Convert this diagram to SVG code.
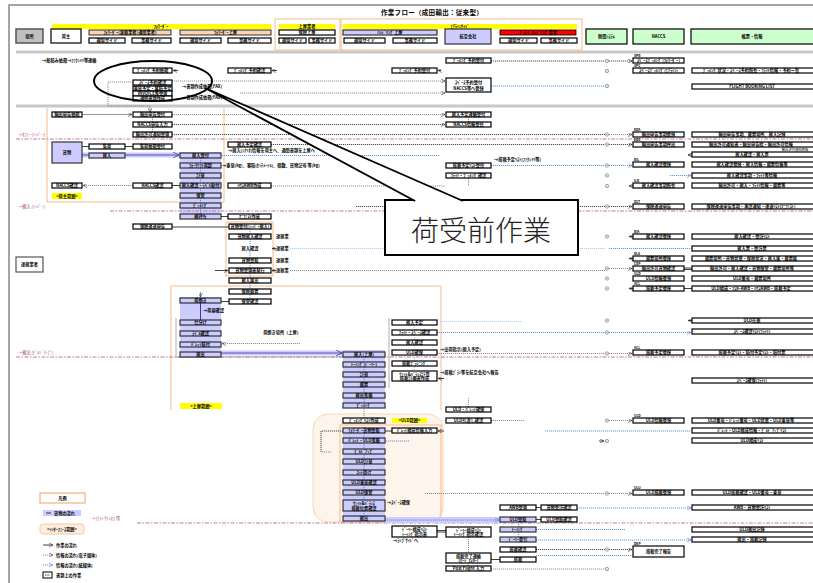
<svg xmlns="http://www.w3.org/2000/svg" width="813" height="583" viewBox="0 0 813 583">
<style>
.bx{fill:#fff;stroke:#000;stroke-width:1.2}
.lv{fill:#ccccff;stroke:#333;stroke-width:1.2}
.t{font-family:"Noto Sans CJK JP","Noto Sans",sans-serif;font-size:4.2px;font-weight:700;text-anchor:middle;fill:#000}
.tn{font-weight:400}
.ts{font-size:3.3px}
.tl{text-anchor:start}
.mg{fill:#a0406a;font-weight:400}
.dg{fill:none;stroke:#777;stroke-width:0.8;stroke-dasharray:1.2 0.8}
.dk{fill:none;stroke:#222;stroke-width:0.8;stroke-dasharray:1.2 0.8}
.db{fill:none;stroke:#3d7fd9;stroke-width:0.8;stroke-dasharray:1.2 0.8}
.dbl{fill:none;stroke:#9cc0ee;stroke-width:0.8;stroke-dasharray:1.2 0.8}
.dm{fill:none;stroke:#c07898;stroke-width:1;stroke-dasharray:4 1.5 1.5 1.5}
.sl{fill:none;stroke:#111;stroke-width:0.8}
.or{fill:none;stroke:#f7b98a;stroke-width:1}
.sep{stroke:#c8c8c8;stroke-width:3}
.band{fill:#ccccff}
</style>
<defs>
<marker id="ah" viewBox="0 0 4 4" refX="4" refY="2" markerWidth="4" markerHeight="4" orient="auto" markerUnits="userSpaceOnUse"><path d="M0,0 L4,2 L0,4" fill="none" stroke="#333" stroke-width="0.6"/></marker>
<marker id="ahb" viewBox="0 0 4 4" refX="4" refY="2" markerWidth="4" markerHeight="4" orient="auto" markerUnits="userSpaceOnUse"><path d="M0,0 L4,2 L0,4" fill="none" stroke="#3d7fd9" stroke-width="0.6"/></marker>
<marker id="ahl" viewBox="0 0 6 6" refX="6" refY="3" markerWidth="6" markerHeight="6" orient="auto" markerUnits="userSpaceOnUse"><path d="M0,0 L6,3 L0,6" fill="none" stroke="#3a3a9a" stroke-width="0.8"/></marker>
<g id="ci"><circle r="1.7" fill="none" stroke="#666" stroke-width="0.6"/><circle r="0.5" fill="#666"/></g>
<linearGradient id="fade" x1="0" x2="1" y1="0" y2="0"><stop offset="0" stop-color="#666"/><stop offset="1" stop-color="#666" stop-opacity="0"/></linearGradient>
</defs>

<rect width="813" height="583" fill="#fff"/>
<!-- page frame and separators -->
<path d="M9,583 V5 H813" fill="none" stroke="#888" stroke-width="1.5"/>
<line class="sep" x1="16" y1="52" x2="813" y2="52"/>
<line class="sep" x1="16" y1="106" x2="813" y2="106"/>
<text x="432" y="15" style="font-family:'Noto Sans CJK JP',sans-serif;font-size:6.5px;font-weight:700;text-anchor:middle;letter-spacing:0.3px">作業フロー（成田輸出：従来型）</text>

<!-- header lanes -->
<g id="hdr-place"><rect x="16" y="29" width="27" height="14" fill="#c0c0c0" stroke="#555" stroke-width="1.5"/><text class="t" x="29.5" y="37.5">場所</text></g>
<g id="hdr-fwd"><rect x="52" y="24" width="219" height="5" fill="#ffff00"/><text class="t" x="161" y="28">ﾌｫﾜｰﾀﾞｰ</text>
<rect x="89" y="30" width="82" height="5" fill="#fbd4b4" stroke="#000" stroke-width="0.8"/><text class="t" x="130" y="34">ﾌｫﾜｰﾀﾞｰ(混載業者/通関業者)</text>
<rect x="180" y="30" width="91" height="5" fill="#fbd4b4" stroke="#000" stroke-width="0.8"/><text class="t" x="225.5" y="34">ﾌｫﾜｰﾀﾞｰ上屋</text>
<rect class="bx" x="89" y="38" width="36" height="5"/><text class="t" x="107" y="42">現場サイド</text>
<rect class="bx" x="132" y="38" width="39" height="5"/><text class="t" x="151.5" y="42">事務サイド</text>
<rect class="bx" x="180" y="38" width="41" height="5"/><text class="t" x="200.5" y="42">現場サイド</text>
<rect class="bx" x="228" y="38" width="43" height="5"/><text class="t" x="249.5" y="42">事務サイド</text></g>
<g id="hdr-shipper"><rect x="51" y="29" width="30" height="14" fill="#fff" stroke="#000" stroke-width="1.2"/><text class="t" x="66" y="37.5">荷主</text></g>
<g id="hdr-shed"><rect class="or" x="275" y="19" width="65" height="31"/>
<rect x="279" y="24" width="56" height="5" fill="#ffff00"/><text class="t" x="307" y="28">上屋業者</text>
<rect class="bx" x="279" y="30" width="56" height="5"/><text class="t" x="307" y="34">保税上屋</text>
<rect class="bx" x="279" y="38" width="27" height="5"/><text class="t" x="292.5" y="42">現場サイド</text>
<rect class="bx" x="309" y="38" width="26" height="5"/><text class="t" x="322" y="42">事務サイド</text></g>
<g id="hdr-airline"><rect class="or" x="341" y="19" width="241" height="31"/>
<rect x="343" y="24" width="234" height="5" fill="#ffff00"/><text class="t" x="460" y="28">ｴｱﾗｲﾝｻｲﾄﾞ</text>
<rect class="lv" x="343" y="30" width="94" height="5"/><text class="t" x="390" y="34">ﾊﾝﾄﾞﾘﾝｸﾞ上屋</text>
<rect class="bx" x="344" y="38" width="41" height="5"/><text class="t" x="364.5" y="42">現場サイド</text>
<rect class="bx" x="393" y="38" width="44" height="5"/><text class="t" x="415" y="42">事務サイド</text>
<rect class="lv" x="445" y="29" width="46" height="15"/><text class="t" x="468" y="38">航空会社</text>
<rect x="500" y="30" width="76" height="5" fill="#ff0000" stroke="#000" stroke-width="0.8"/><text class="t" x="538" y="34">ｸﾞﾗﾝﾄﾞﾊﾝﾄﾞﾘﾝｸﾞ業者</text>
<rect class="bx" x="500" y="38" width="37" height="5"/><text class="t" x="518.5" y="42">現場サイド</text>
<rect class="bx" x="541" y="38" width="36" height="5"/><text class="t" x="559" y="42">事務サイド</text></g>
<g id="hdr-customs"><rect x="586" y="29" width="41" height="15" fill="#ccffcc" stroke="#000" stroke-width="1.2"/><text class="t" x="606.5" y="38">税関ｼｽﾃﾑ</text></g>
<g id="hdr-naccs"><rect x="633" y="29" width="51" height="15" fill="#ccffcc" stroke="#000" stroke-width="1.2"/><text class="t" x="658.5" y="38">NACCS</text></g>
<g id="hdr-info"><rect x="691" y="29" width="125" height="15" fill="#ccffcc" stroke="#000" stroke-width="1.2"/><text class="t" x="752" y="38">帳票・情報</text></g>

<!-- scope brackets -->
<path class="or" d="M47,108 V202 H224 V108"/>
<path class="or" d="M171,410 V286 H441 V410"/>
<rect class="or" x="226" y="222" width="47" height="54"/>
<rect x="313" y="414" width="130" height="108" rx="15" fill="#fdf4ec" stroke="#f8d8b8" stroke-width="1"/>
<rect class="or" x="340" y="425" width="101" height="97"/>
<rect x="52" y="193" width="30" height="6" fill="#ffff00"/><text class="t" x="67" y="197.5">&lt;荷主範囲&gt;</text>
<rect x="180" y="403" width="42" height="6" fill="#ffff00"/><text class="t" x="201" y="407.5">&lt;上屋範囲&gt;</text>
<rect x="392" y="418" width="35" height="5" fill="#ffff00"/><text class="t" x="409.5" y="422">&lt;ULD範囲&gt;</text>

<!-- cargo lanes (lavender columns) -->
<rect class="band" x="180" y="152" width="41" height="67"/>
<rect class="band" x="180" y="297" width="41" height="60"/>
<rect class="band" x="343" y="350" width="42" height="58"/>
<rect class="band" x="343" y="427" width="42" height="95"/>

<g id="connectors">
<!-- stage lines -->
<line class="dm" x1="16" y1="139" x2="813" y2="139"/>
<text class="t tl mg" x="18" y="136">→ｵﾌｧｰ (ｼｯﾊﾟｰ)</text>
<line class="dm" x1="110" y1="211" x2="813" y2="211"/>
<text class="t tl mg" x="18" y="208">→搬入 (ｼｯﾊﾟｰ)</text>
<line class="dm" x1="16" y1="357" x2="813" y2="357"/>
<text class="t tl mg" x="18" y="354">→搬出 (ﾋﾞﾙﾄﾞｱｯﾌﾟ)</text>
<line class="dm" x1="137" y1="523" x2="813" y2="523"/>
<text class="t tl mg" x="91" y="520">→ﾌﾗｲﾄ ｻｲﾝｵﾌ 等</text>

<!-- pre-receiving -->
<text class="t tl" x="42" y="62">→船積み依頼→ﾌｧｸｼﾐﾘ等連絡</text>
<path class="dg" d="M133,82 H108 V106 H150 V112" marker-end="url(#ah)"/>
<line class="sl" x1="178" y1="70.5" x2="173" y2="70.5" marker-end="url(#ah)"/>
<line class="sl" x1="277" y1="70.5" x2="272" y2="70.5" marker-end="url(#ah)"/>
<line class="sl" x1="441" y1="70.5" x2="438" y2="70.5" marker-end="url(#ah)"/>
<line class="dg" x1="172" y1="81" x2="445" y2="81" marker-end="url(#ah)"/>
<line class="dg" x1="240" y1="93" x2="445" y2="93" marker-end="url(#ah)"/>
<text class="t tl" x="182" y="88">→書類作成依頼(FAX)</text>
<text class="t tl" x="182" y="99">→書類作成依頼(FAX)</text>
<line class="dk" x1="491" y1="61" x2="605" y2="61"/>
<line class="dk" x1="609" y1="61" x2="632" y2="61" marker-end="url(#ah)"/>
<line class="db" x1="491" y1="86" x2="605" y2="86"/>

<!-- declaration / offer -->
<line x1="83" y1="114.5" x2="132" y2="114.5" stroke="#777" stroke-width="0.8" marker-end="url(#ah)"/>
<line class="dg" x1="172" y1="114.5" x2="445" y2="114.5" marker-end="url(#ah)"/>
<line class="dk" x1="172" y1="124.5" x2="445" y2="124.5" marker-end="url(#ah)"/>
<line class="dk" x1="172" y1="134.5" x2="605" y2="134.5"/>
<line class="db" x1="152.5" y1="117" x2="152.5" y2="122"/>
<line class="db" x1="152.5" y1="127" x2="152.5" y2="132"/>
<line class="dg" x1="468.5" y1="117" x2="468.5" y2="122"/>
<line class="dg" x1="609" y1="134.5" x2="632" y2="134.5" marker-end="url(#ah)"/>
<line class="dk" x1="271" y1="144.5" x2="605" y2="144.5"/>
<line class="dk" x1="609" y1="144.5" x2="632" y2="144.5" marker-end="url(#ah)"/>
<line class="sl" x1="82" y1="146.5" x2="89" y2="146.5"/>
<line class="sl" x1="125" y1="146.5" x2="133" y2="146.5"/>
<rect class="band" x="81" y="152.5" width="99" height="5"/>
<line x1="81" y1="155" x2="179" y2="155" stroke="#3a3a9a" stroke-width="0.8" marker-end="url(#ahl)"/>
<text class="t tl" x="228" y="151.5">→搬入(ｼﾅﾘｵ)情報を荷主へ、通関書類を上屋へ</text>
<line class="db" x1="222" y1="155.5" x2="440" y2="155.5"/>
<text class="t tl" x="222" y="166.5">→重量(kg)、容積(ｾﾝﾁﾒｰﾄﾙ)、個数、貨物記号 等(kg)</text>
<text class="t tl" x="494" y="161">→搭載予定ﾘｽﾄ(ﾌｧｸｼﾐﾘ等)</text>
<line class="db" x1="491" y1="165.5" x2="605" y2="165.5"/>
<line class="db" x1="609" y1="165.5" x2="632" y2="165.5" marker-end="url(#ahb)"/>
<line class="db" x1="670" y1="175.5" x2="691" y2="175.5" marker-end="url(#ahb)"/>
<line class="dg" x1="468.5" y1="178" x2="468.5" y2="186"/>
<line class="dg" x1="271" y1="186" x2="445" y2="186"/>
<line class="dg" x1="133" y1="185.5" x2="83" y2="185.5" marker-end="url(#ah)"/>
<line class="sl" x1="172" y1="185.5" x2="180" y2="185.5"/>
<line class="sl" x1="633" y1="186" x2="629" y2="186" marker-end="url(#ah)"/>
<line class="sl" x1="692" y1="155" x2="688" y2="155" marker-end="url(#ah)"/>
<line class="db" x1="200.5" y1="158" x2="200.5" y2="214"/>

<!-- receiving -->
<line class="dk" x1="356" y1="206.5" x2="605" y2="206.5"/>
<line class="dk" x1="609" y1="206.5" x2="632" y2="206.5" marker-end="url(#ah)"/>
<line class="sl" x1="172" y1="227" x2="229" y2="227"/>
<line class="sl" x1="221" y1="216.5" x2="228" y2="216.5"/>
<line class="db" x1="250" y1="229" x2="250" y2="299"/>
<text class="t tl" x="276" y="238">運搬業</text>
<text class="t tl" x="276" y="250">運搬業</text>
<text class="t tl" x="276" y="262">運搬業</text>
<text class="t tl" x="276" y="272">運搬業</text>
<line class="sl" x1="276" y1="248.5" x2="272" y2="248.5" marker-end="url(#ah)"/>
<line class="sl" x1="276" y1="270.5" x2="272" y2="270.5" marker-end="url(#ah)"/>
<line class="dbl" x1="290" y1="248.5" x2="605" y2="248.5"/>
<line class="db" x1="609" y1="248.5" x2="691" y2="248.5"/>
<line class="dg" x1="290" y1="270.5" x2="605" y2="270.5"/>
<line class="dg" x1="609" y1="268.5" x2="632" y2="268.5" marker-end="url(#ah)"/>
<line class="sl" x1="215" y1="270.5" x2="228" y2="270.5" marker-end="url(#ah)"/>
<line class="sl" x1="633" y1="236.5" x2="629" y2="236.5" marker-end="url(#ah)"/>
<line class="sl" x1="633" y1="258.5" x2="629" y2="258.5" marker-end="url(#ah)"/>
<line class="sl" x1="633" y1="288.5" x2="629" y2="288.5" marker-end="url(#ah)"/>
<line class="sl" x1="684" y1="268" x2="692" y2="268"/><line class="sl" x1="684" y1="269.5" x2="692" y2="269.5"/>
<line class="sl" x1="684" y1="288.5" x2="692" y2="288.5"/>
<line x1="45" y1="260" x2="155" y2="260" stroke="url(#fade)" stroke-width="1.5"/>
<line x1="45" y1="270" x2="115" y2="270" stroke="url(#fade)" stroke-width="1.5"/>

<!-- shed handling -->
<line class="sl" x1="221" y1="301.5" x2="229" y2="301.5"/>
<line x1="200.5" y1="292" x2="200.5" y2="297" stroke="#333" stroke-width="0.6" marker-end="url(#ah)"/>
<line x1="200.5" y1="303" x2="200.5" y2="320" stroke="#3a3a9a" stroke-width="1"/>
<text class="t tl" x="203" y="312">→荷姿確認</text>
<path d="M176,318 V357 H343" fill="none" stroke="#999" stroke-width="0.8"/>
<path d="M389,318 V388" fill="none" stroke="#999" stroke-width="0.8"/>
<text class="t" x="282" y="334">荷捌き場所（上屋）</text>
<line class="dg" x1="300" y1="343.5" x2="222" y2="343.5" marker-end="url(#ah)"/>
<rect class="band" x="221" y="350.5" width="122" height="5"/>
<line x1="221" y1="353" x2="342" y2="353" stroke="#3a3a9a" stroke-width="0.8" marker-end="url(#ahl)"/>
<line x1="414.5" y1="325" x2="414.5" y2="371" stroke="#999" stroke-width="0.6" stroke-dasharray="1 1"/>
<line class="db" x1="364" y1="357" x2="364" y2="403"/>
<line class="dbl" x1="440" y1="321.5" x2="522" y2="321.5"/>
<line class="db" x1="437" y1="332.5" x2="605" y2="332.5"/>
<line class="db" x1="609" y1="332.5" x2="691" y2="332.5" marker-end="url(#ahb)"/>
<line class="sl" x1="692" y1="320.5" x2="688" y2="320.5" marker-end="url(#ah)"/>
<text class="t tl" x="440" y="351">→出荷指示(搬入予定)</text>
<line class="dg" x1="437" y1="353.5" x2="605" y2="353.5"/>
<line class="dg" x1="609" y1="353.5" x2="632" y2="353.5" marker-end="url(#ah)"/>
<text class="t tl" x="440" y="374">→搭載ﾌﾟﾗﾝ等を航空会社へ報告</text>
<line class="sl" x1="444" y1="378.5" x2="438" y2="378.5" marker-end="url(#ah)"/>

<!-- build-up -->
<line class="dg" x1="364" y1="409" x2="364" y2="418"/>
<line class="dg" x1="468.5" y1="398" x2="468.5" y2="407"/>
<line class="dg" x1="491" y1="420.5" x2="525" y2="420.5"/>
<line class="dg" x1="609" y1="420.5" x2="632" y2="420.5" marker-end="url(#ah)"/>
<line class="sl" x1="385" y1="431" x2="392" y2="431"/>
<line class="sl" x1="444" y1="431" x2="438" y2="431" marker-end="url(#ah)"/>
<line class="db" x1="545" y1="431" x2="691" y2="431"/>
<line class="db" x1="386" y1="441" x2="410" y2="441"/>
<line class="sl" x1="599" y1="441" x2="604" y2="441" marker-end="url(#ah)"/>
<path class="dk" d="M343,431 H321 V452"/>
<line class="dg" x1="322" y1="452" x2="332" y2="452"/>
<line class="db" x1="364" y1="433" x2="364" y2="516"/>
<line class="dg" x1="425" y1="493.5" x2="605" y2="493.5"/>
<line class="dg" x1="609" y1="493.5" x2="632" y2="493.5" marker-end="url(#ah)"/>
<text class="t tl" x="387" y="504">→ｽﾍﾟｰｽ確保</text>
<line class="dg" x1="386" y1="518.5" x2="405" y2="518.5"/>
<line class="sl" x1="536" y1="507.5" x2="541" y2="507.5"/>
<line class="db" x1="577" y1="508" x2="691" y2="508" marker-end="url(#ahb)"/>
<rect class="band" x="385" y="517" width="115" height="6"/>
<line class="db" x1="385" y1="520" x2="499" y2="520" marker-end="url(#ahb)"/>
<line class="sl" x1="536" y1="519.5" x2="541" y2="519.5"/>
<line class="db" x1="536" y1="529.5" x2="625" y2="529.5"/>
<line class="db" x1="536" y1="540" x2="691" y2="540" marker-end="url(#ahb)"/>
<line class="sl" x1="437" y1="530.5" x2="446" y2="530.5"/><line class="sl" x1="437" y1="532" x2="446" y2="532"/>
<text class="t tl" x="393" y="542">→ﾗﾝﾌﾟｻｲﾄﾞへ</text>
<line class="dg" x1="468.5" y1="537" x2="468.5" y2="553"/>
<line class="db" x1="518.5" y1="522" x2="518.5" y2="537"/>
<line class="dk" x1="536" y1="549.5" x2="605" y2="549.5"/>
<line class="dk" x1="609" y1="549.5" x2="632" y2="549.5" marker-end="url(#ah)"/>
<line class="db" x1="536" y1="555.5" x2="632" y2="555.5"/>
<line class="sl" x1="491" y1="559.5" x2="500" y2="559.5"/>
<line class="dg" x1="468.5" y1="563" x2="468.5" y2="566"/>
<line class="dg" x1="491" y1="569" x2="605" y2="569"/>
</g>

<!-- shipper / forwarder office -->
<g id="f-book"><rect class="bx" x="133" y="68" width="39" height="5"/><text class="t" x="152.5" y="72">ﾌﾞｯｷﾝｸﾞ予約依頼</text></g>
<g id="f-space"><rect class="bx" x="133" y="80" width="39" height="5"/><text class="t" x="152.5" y="84">ｽﾍﾟｰｽ予約確認</text></g>
<g id="f-doc1"><rect class="bx" x="133" y="86" width="39" height="5"/><text class="t" x="152.5" y="90">重量予定・容積予定</text></g>
<g id="f-inv"><rect class="bx" x="133" y="91" width="39" height="5"/><text class="t" x="152.5" y="95">INVOICE等受領</text></g>
<g id="f-doc2"><rect class="bx" x="133" y="96" width="39" height="5"/><text class="t" x="152.5" y="100">通関書類作成</text></g>
<g id="s-book"><rect class="bx" x="228" y="68" width="43" height="5"/><text class="t" x="249.5" y="72">ﾌﾞｯｷﾝｸﾞ予約確認</text></g>
<g id="h-book"><rect class="bx" x="392" y="68" width="45" height="5"/><text class="t" x="414.5" y="72">ﾌﾞｯｷﾝｸﾞ予約受付</text></g>
<g id="a-book"><rect class="bx" x="446" y="58" width="45" height="5"/><text class="t" x="468.5" y="62">ﾌﾞｯｷﾝｸﾞ予約受付</text></g>
<g id="a-space"><rect class="bx" x="446" y="78" width="45" height="14"/><text class="t" x="468.5" y="84">ｽﾍﾟｰｽ予約受付</text><text class="t" x="468.5" y="89.5">NACCS等へ登録</text></g>

<g id="p-req"><rect class="bx" x="52" y="112" width="30" height="5"/><text class="t" x="67" y="116">輸出申告依頼</text></g>
<g id="f-req"><rect class="bx" x="133" y="112" width="39" height="5"/><text class="t" x="152.5" y="116">輸出申告受付</text></g>
<g id="f-input"><rect class="bx" x="133" y="122" width="39" height="5"/><text class="t" x="152.5" y="126">NACCS申告入力</text></g>
<g id="f-perm"><rect class="bx" x="133" y="132" width="39" height="5"/><text class="t" x="152.5" y="136">輸出許可通知受領</text></g>
<g id="a-plan"><rect class="bx" x="446" y="112" width="45" height="5"/><text class="t" x="468.5" y="116">搬入予定連絡受付</text></g>
<g id="a-naccs"><rect class="bx" x="446" y="122" width="45" height="5"/><text class="t" x="468.5" y="126">NACCS情報受信</text></g>
<g id="p-cargo"><rect class="lv" x="52" y="142" width="30" height="21"/><text class="t" x="67" y="154">貨物</text></g>
<g id="f-pick"><rect class="bx" x="89" y="144" width="36" height="5"/><text class="t" x="107" y="148">集荷</text></g>
<g id="f-pickreq"><rect class="bx" x="133" y="144" width="39" height="5"/><text class="t" x="152.5" y="148">集荷依頼受付</text></g>
<g id="f-in"><rect class="lv" x="89" y="153" width="36" height="5"/><text class="t" x="107" y="157">搬入</text></g>
<g id="s-plan"><rect class="bx" x="228" y="142" width="43" height="5"/><text class="t" x="249.5" y="146">搬入予定確認</text></g>
<g id="s-hawb"><rect class="bx" x="228" y="183" width="43" height="5"/><text class="t" x="249.5" y="187">ﾊｳｽAWB作成</text></g>
<g id="p-check"><rect class="bx" x="52" y="183" width="30" height="5"/><text class="t" x="67" y="187">NACCS確認</text></g>
<g id="f-check"><rect class="bx" x="133" y="183" width="39" height="5"/><text class="t" x="152.5" y="187">NACCS確認</text></g>
<g id="a-list"><rect class="bx" x="446" y="163" width="45" height="5"/><text class="t" x="468.5" y="167">搭載予定ﾘｽﾄ受信</text></g>
<g id="a-flight"><rect class="bx" x="446" y="173" width="45" height="5"/><text class="t" x="468.5" y="177">ﾌﾗｲﾄ・ﾌﾞｯｷﾝｸﾞ確認</text></g>

<!-- forwarder shed field lane -->
<g id="s1"><rect class="lv" x="180" y="153" width="41" height="5"/><text class="t" x="200.5" y="157">搬入受付</text></g>
<g id="s2"><rect class="lv" x="180" y="163" width="41" height="5"/><text class="t" x="200.5" y="167">ﾌｫｰｸﾘﾌﾄ荷卸</text></g>
<g id="s3"><rect class="lv" x="180" y="173" width="41" height="5"/><text class="t" x="200.5" y="177">計量</text></g>
<g id="s4"><rect class="lv" x="180" y="183" width="41" height="5"/><text class="t" x="200.5" y="187">搬入確認・ﾗﾍﾞﾙ貼付</text></g>
<g id="s5"><rect class="lv" x="180" y="193" width="41" height="5"/><text class="t" x="200.5" y="197">保管</text></g>
<g id="s6"><rect class="lv" x="180" y="203" width="41" height="5"/><text class="t" x="200.5" y="207">ﾋﾟｯｷﾝｸﾞ</text></g>
<g id="s7"><rect class="lv" x="180" y="214" width="41" height="5"/><text class="t" x="200.5" y="218">横持ち</text></g>
<g id="f-bond"><rect class="bx" x="133" y="224" width="39" height="5"/><text class="t" x="152.5" y="228">保税運送申告</text></g>
<g id="s-mani"><rect class="bx" x="228" y="214" width="43" height="5"/><text class="t" x="249.5" y="218">ﾏﾆﾌｪｽﾄ作成</text></g>
<g id="carrier"><rect x="16" y="257" width="27" height="15" fill="#fff" stroke="#555" stroke-width="1.2"/><text class="t" x="29.5" y="266">運搬業者</text></g>

<!-- shed office -->
<g id="o1"><rect class="bx" x="229" y="224" width="42" height="5"/><text class="t" x="250" y="228">貨物受付(ｼｯﾊﾟｰ搬入)</text></g>
<g id="o2"><rect class="bx" x="229" y="234" width="42" height="5"/><text class="t" x="250" y="238">貨物搬入確認</text></g>
<text class="t" x="250" y="250">搬入確認</text>
<g id="o3"><rect class="bx" x="229" y="258" width="42" height="5"/><text class="t" x="250" y="262">貨物受取</text></g>
<g id="o4"><rect class="bx" x="229" y="268" width="42" height="5"/><text class="t" x="250" y="272">貨物受領書発行</text></g>
<g id="o5"><rect class="bx" x="229" y="278" width="42" height="5"/><text class="t" x="250" y="282">搬入届出</text></g>
<g id="o6"><rect class="bx" x="229" y="289" width="42" height="5"/><text class="t" x="250" y="293">保税蔵置</text></g>
<g id="o7"><rect class="bx" x="229" y="299" width="42" height="5"/><text class="t" x="250" y="303">保管確認</text></g>

<g id="w1"><rect class="lv" x="180" y="298" width="41" height="5"/><text class="t" x="200.5" y="302">荷捌き</text></g>
<g id="w2"><rect class="lv" x="180" y="320" width="41" height="5"/><text class="t" x="200.5" y="324">仕分け</text></g>
<g id="w3"><rect class="lv" x="180" y="331" width="41" height="5"/><text class="t" x="200.5" y="335">ﾗﾍﾞﾙ確認</text></g>
<g id="w4"><rect class="lv" x="180" y="342" width="41" height="5"/><text class="t" x="200.5" y="346">ﾊﾟﾚｯﾄ積付</text></g>
<g id="w5"><rect class="lv" x="180" y="352" width="41" height="5"/><text class="t" x="200.5" y="356">搬出</text></g>

<!-- handling shed field -->
<g id="h1"><rect class="lv" x="343" y="352" width="42" height="5"/><text class="t" x="364" y="356">搬入(上屋)</text></g>
<g id="h2"><rect class="lv" x="343" y="362" width="42" height="5"/><text class="t" x="364" y="366">ﾄｰｲﾝｸﾞ(ﾄﾞｰﾘｰ)</text></g>
<g id="h3"><rect class="lv" x="343" y="372" width="42" height="5"/><text class="t" x="364" y="376">計量</text></g>
<g id="h4"><rect class="lv" x="343" y="382" width="42" height="5"/><text class="t" x="364" y="386">蔵置</text></g>
<g id="h5"><rect class="lv" x="343" y="393" width="42" height="5"/><text class="t" x="364" y="397">搬出準備</text></g>
<g id="h6"><rect class="lv" x="343" y="403" width="42" height="5"/><text class="t" x="364" y="407">ﾋﾟｯｷﾝｸﾞ</text></g>
<g id="ho1"><rect class="bx" x="392" y="320" width="45" height="5"/><text class="t" x="414.5" y="324">搬入予定</text></g>
<g id="ho2"><rect class="bx" x="392" y="330" width="45" height="5"/><text class="t" x="414.5" y="334">ﾌﾗｲﾄ・ｽﾍﾟｰｽ確認</text></g>
<g id="ho3"><rect class="bx" x="392" y="340" width="45" height="5"/><text class="t" x="414.5" y="344">搬入確認</text></g>
<g id="ho4"><rect class="bx" x="392" y="350" width="45" height="5"/><text class="t" x="414.5" y="354">ULD確保</text></g>
<g id="ho5"><rect class="bx" x="392" y="361" width="45" height="5"/><text class="t" x="414.5" y="365">搭載ﾌﾟﾗﾝﾆﾝｸﾞ</text></g>
<g id="ho6"><rect class="bx" x="392" y="371" width="45" height="10"/><text class="t" x="414.5" y="375.5">ｳｪｲﾄ&amp;ﾊﾞﾗﾝｽ計算</text><text class="t" x="414.5" y="380">搭載計画書作成</text></g>

<!-- build-up -->
<g id="a-uld"><rect class="bx" x="446" y="407" width="45" height="5"/><text class="t" x="468.5" y="411">ULD・ﾊﾟﾚｯﾄ確保</text></g>
<g id="a-uld2"><rect class="bx" x="446" y="418" width="45" height="5"/><text class="t" x="468.5" y="422">ULD引渡し確認</text></g>
<g id="b0"><rect class="bx" x="343" y="418" width="42" height="5"/><text class="t" x="364" y="422">ﾋﾟｯｷﾝｸﾞﾘｽﾄ作成</text></g>
<g id="b1"><rect class="lv" x="343" y="428" width="42" height="5"/><text class="t" x="364" y="432">ﾌｫﾜｰﾀﾞｰ貨物受取</text></g>
<g id="b2"><rect class="lv" x="343" y="438" width="42" height="5"/><text class="t" x="364" y="442">ﾊﾟﾚｯﾄ・ULD準備</text></g>
<g id="b3"><rect class="lv" x="343" y="449" width="42" height="5"/><text class="t" x="364" y="453">ﾋﾞﾙﾄﾞｱｯﾌﾟ</text></g>
<g id="b4"><rect class="lv" x="343" y="459" width="42" height="5"/><text class="t" x="364" y="463">ULD計量</text></g>
<g id="b5"><rect class="lv" x="343" y="470" width="42" height="5"/><text class="t" x="364" y="474">ﾈｯﾄ掛け</text></g>
<g id="b6"><rect class="lv" x="343" y="480" width="42" height="5"/><text class="t" x="364" y="484">ULD重量確認</text></g>
<g id="b7"><rect class="lv" x="343" y="490" width="42" height="5"/><text class="t" x="364" y="494">ULD保管</text></g>
<g id="b8"><rect class="lv" x="343" y="500" width="42" height="11"/><text class="t" x="364" y="505">ｳｪｲﾄ&amp;ﾊﾞﾗﾝｽ</text><text class="t" x="364" y="509.5">搭載位置確認</text></g>
<g id="b9"><rect class="lv" x="343" y="516" width="42" height="5"/><text class="t" x="364" y="520">搬出</text></g>
<g id="bo1"><rect class="bx" x="392" y="428" width="45" height="5"/><text class="t" x="414.5" y="432">ﾊﾟﾚｯﾄ構成情報入力</text></g>
<g id="bo2"><rect class="bx" x="392" y="526" width="45" height="11"/><text class="t" x="414.5" y="531">ﾄﾞｰﾘｰ構成ﾘｽﾄ</text><text class="t" x="414.5" y="535.5">ﾄｰｲﾝｸﾞ指示書</text></g>
<g id="a-dolly"><rect class="bx" x="446" y="527" width="45" height="10"/><text class="t" x="468.5" y="531.5">ﾄﾞｰﾘｰ構成ﾘｽﾄ</text><text class="t" x="468.5" y="536">ﾄｰｲﾝｸﾞ指示確認</text></g>
<g id="a-load"><rect class="bx" x="446" y="553" width="45" height="10"/><text class="t" x="468.5" y="557.5">搭載完了連絡</text><text class="t" x="468.5" y="562">(ﾛｰﾄﾞﾏｽﾀｰ)</text></g>
<g id="a-post"><rect class="bx" x="446" y="566" width="45" height="5"/><text class="t" x="468.5" y="570">Post Flight 入力</text></g>
<g id="g1"><rect class="bx" x="500" y="505" width="36" height="5"/><text class="t" x="518" y="509">AWB受領</text></g>
<g id="g2"><rect class="bx" x="541" y="505" width="36" height="5"/><text class="t" x="559" y="509">貨物受託確認</text></g>
<g id="g3"><rect class="lv" x="500" y="517" width="36" height="5"/><text class="t" x="518" y="521">ULD受取</text></g>
<g id="g4"><rect class="bx" x="541" y="517" width="36" height="5"/><text class="t" x="559" y="521">ULD受取確認</text></g>
<g id="g5"><rect class="lv" x="500" y="527" width="36" height="5"/><text class="t" x="518" y="531">ﾄｰｲﾝｸﾞ</text></g>
<g id="g6"><rect class="lv" x="500" y="537" width="36" height="5"/><text class="t" x="518" y="541">ﾄﾞｰﾘｰ牽引</text></g>
<g id="g7"><rect class="bx" x="500" y="547" width="36" height="5"/><text class="t" x="518" y="551">搭載確認</text></g>
<g id="g8"><rect class="bx" x="500" y="557" width="36" height="5"/><text class="t" x="518" y="561">搭載</text></g>

<!-- customs marks -->
<g id="customs-marks">
<use href="#ci" x="607" y="61"/><use href="#ci" x="607" y="71"/><use href="#ci" x="607" y="86"/>
<use href="#ci" x="607" y="134.5"/><use href="#ci" x="607" y="144.5"/><use href="#ci" x="607" y="165.5"/><use href="#ci" x="607" y="175.5"/><use href="#ci" x="607" y="186"/>
<use href="#ci" x="607" y="206.5"/><use href="#ci" x="607" y="236.5"/><use href="#ci" x="607" y="268.5"/><use href="#ci" x="607" y="278.5"/><use href="#ci" x="607" y="288.5"/>
<use href="#ci" x="607" y="320.5"/><use href="#ci" x="607" y="332.5"/><use href="#ci" x="607" y="353.5"/>
<use href="#ci" x="607" y="420.5"/><use href="#ci" x="607" y="441"/><use href="#ci" x="607" y="493.5"/><use href="#ci" x="607" y="549.5"/><use href="#ci" x="607" y="569"/>
</g>

<!-- NACCS -->
<g id="n1"><text class="t ts tl" x="634" y="57">SPB</text><rect class="bx" x="633" y="58" width="51" height="5"/><text class="t" x="658.5" y="62">ｽﾍﾟｰｽﾌﾞｯｷﾝｸﾞ(ﾌｫﾜｰﾀﾞｰ)</text></g>
<g id="n2"><text class="t ts tl" x="634" y="67">SPC</text><rect class="bx" x="633" y="68" width="51" height="5"/><text class="t" x="658.5" y="72">ｽﾍﾟｰｽﾌﾞｯｷﾝｸﾞ(ｴｱﾗｲﾝ)</text></g>
<g id="n3"><text class="t ts tl" x="634" y="131">EDA</text><rect class="bx" x="633" y="132" width="51" height="5"/><text class="t" x="658.5" y="136">輸出申告事項登録</text></g>
<g id="n4"><text class="t ts tl" x="634" y="141">EDC</text><rect class="bx" x="633" y="142" width="51" height="5"/><text class="t" x="658.5" y="146">輸出申告事項呼出</text></g>
<g id="n5"><text class="t ts tl" x="634" y="161">BIL</text><rect class="bx" x="633" y="162" width="51" height="5"/><text class="t" x="658.5" y="166">搬入確認登録</text></g>
<g id="n6"><text class="t ts tl" x="634" y="182">ILB</text><rect class="bx" x="633" y="183" width="51" height="5"/><text class="t" x="658.5" y="187">搬入確認事項照会</text></g>
<g id="n7"><text class="t ts tl" x="634" y="203">OLT</text><rect class="bx" x="633" y="204" width="51" height="5"/><text class="t" x="658.5" y="208">保税運送申告</text></g>
<g id="n8"><text class="t ts tl" x="634" y="233">BIA</text><rect class="bx" x="633" y="234" width="51" height="5"/><text class="t" x="658.5" y="238">搬入確認登録</text></g>
<g id="n9"><text class="t ts tl" x="634" y="255">BLS</text><rect class="bx" x="633" y="256" width="51" height="5"/><text class="t" x="658.5" y="260">蔵置場所登録</text></g>
<g id="n10"><text class="t ts tl" x="634" y="265">CEP</text><rect class="bx" x="633" y="266" width="51" height="5"/><text class="t" x="658.5" y="270">輸出許可貨物確認</text></g>
<g id="n11"><text class="t ts tl" x="634" y="275">ULD</text><rect class="bx" x="633" y="276" width="51" height="5"/><text class="t" x="658.5" y="280">ULD情報登録</text></g>
<g id="n12"><text class="t ts tl" x="634" y="285">ACL</text><rect class="bx" x="633" y="286" width="51" height="5"/><text class="t" x="658.5" y="290">搭載予定登録</text></g>
<g id="n13"><text class="t ts tl" x="634" y="349">ACL</text><rect class="bx" x="633" y="350" width="51" height="5"/><text class="t" x="658.5" y="354">搭載予定登録</text></g>
<g id="n14"><text class="t ts tl" x="634" y="417">ULD</text><rect class="bx" x="633" y="418" width="51" height="5"/><text class="t" x="658.5" y="422">ULD情報登録</text></g>
<g id="n15"><text class="t ts tl" x="634" y="489">ULU</text><rect class="bx" x="633" y="490" width="51" height="5"/><text class="t" x="658.5" y="494">ULD搭載登録</text></g>
<g id="n16"><text class="t ts tl" x="634" y="545">DEP</text><rect class="bx" x="633" y="546" width="51" height="11"/><text class="t" x="658.5" y="553">搭載完了報告</text></g>

<!-- reports -->
<g id="r1"><rect class="bx" x="692" y="68" width="124" height="5"/><text class="t" x="751" y="72">ﾌﾞｯｷﾝｸﾞ状況・ｽﾍﾟｰｽ予約照会・ﾌﾗｲﾄ情報・予約一覧</text></g>
<g id="r2"><rect class="bx" x="692" y="84" width="124" height="5"/><text class="t" x="752" y="88">FLIGHT BOOKING LIST</text></g>
<g id="r3"><rect class="bx" x="692" y="132" width="124" height="5"/><text class="t" x="752" y="136">輸出申告事項、蔵置場所、搬入記録</text></g>
<g id="r4"><rect class="bx" x="692" y="142" width="124" height="5"/><text class="t" x="751" y="146">輸出許可通知書・輸出申告控・輸出許可情報</text><text class="t ts tn" x="795" y="151">輸出許可通知情報</text></g>
<g id="r5"><rect class="bx" x="692" y="152" width="124" height="5"/><text class="t" x="752" y="156">搬入確認・搬入票</text></g>
<g id="r6"><rect class="bx" x="692" y="162" width="124" height="5"/><text class="t" x="752" y="166">搬入確認登録・搬入情報・蔵置情報等</text></g>
<g id="r7"><rect class="bx" x="692" y="173" width="124" height="5"/><text class="t" x="752" y="177">搬入確認事項・ﾌﾗｲﾄ等情報</text></g>
<g id="r8"><rect class="bx" x="692" y="183" width="124" height="5"/><text class="t" x="752" y="187">輸出許可・搬入・ﾌﾗｲﾄ情報・蔵置等</text></g>
<g id="r9"><rect class="bx" x="692" y="204" width="124" height="5"/><text class="t" x="751" y="208">保税運送申告事項・承認通知・運送ﾘｽﾄ(ﾏﾆﾌｪｽﾄ)</text></g>
<g id="r10"><rect class="bx" x="692" y="234" width="124" height="5"/><text class="t" x="752" y="238">搬入確認・受託ﾘｽﾄ</text></g>
<g id="r11"><rect class="bx" x="692" y="246" width="124" height="5"/><text class="t" x="752" y="250">搬入票・受託票</text></g>
<g id="r12"><rect class="bx" x="692" y="256" width="124" height="5"/><text class="t" x="751" y="260">蔵置場所・貨物状態・保税状況・搬入届・蔵置届</text></g>
<g id="r13"><rect class="bx" x="692" y="266" width="124" height="5"/><text class="t" x="752" y="270">輸出許可・搬入確認・貨物保管・蔵置場所等</text></g>
<g id="r14"><rect class="bx" x="692" y="276" width="124" height="5"/><text class="t" x="752" y="280">ULD番号・蔵置場所</text></g>
<g id="r15"><rect class="bx" x="692" y="286" width="124" height="5"/><text class="t" x="751" y="290">ULD構成・ﾏｽﾀｰAWB・ﾊｳｽAWB・搭載予定</text></g>
<g id="r16"><rect class="bx" x="692" y="318" width="124" height="5"/><text class="t" x="752" y="322">ULD在庫</text></g>
<g id="r17"><rect class="bx" x="692" y="329" width="124" height="5"/><text class="t" x="752" y="333">ｽﾍﾟｰｽ確認ﾘｽﾄ(ﾌﾗｲﾄ)</text></g>
<g id="r18"><rect class="bx" x="692" y="350" width="124" height="5"/><text class="t" x="752" y="354">搭載予定ﾘｽﾄ・積付予定ﾘｽﾄ・積付票</text></g>
<g id="r19"><rect class="bx" x="692" y="378" width="124" height="5"/><text class="t" x="752" y="382">ｽﾍﾟｰｽ確保(ﾌﾗｲﾄ)</text></g>
<g id="r20"><rect class="bx" x="692" y="418" width="124" height="5"/><text class="t" x="751" y="422">ULD番号・ﾊﾟﾚｯﾄ番号・ULD状態・ULD重量等</text></g>
<g id="r21"><rect class="bx" x="692" y="428" width="124" height="5"/><text class="t" x="752" y="432">ﾊﾟﾚｯﾄ・ULD構成情報・ﾋﾞﾙﾄﾞｱｯﾌﾟﾘｽﾄ</text></g>
<g id="r22"><rect class="bx" x="692" y="438" width="124" height="5"/><text class="t" x="752" y="442">ULD構成ﾘｽﾄ</text></g>
<g id="r23"><rect class="bx" x="692" y="490" width="124" height="5"/><text class="t" x="752" y="494">ULD搭載確認・ULD番号・重量</text></g>
<g id="r24"><rect class="bx" x="692" y="505" width="124" height="5"/><text class="t" x="752" y="509">AWB・貨物受託ﾘｽﾄ</text></g>
<g id="r25"><rect class="bx" x="692" y="527" width="124" height="5"/><text class="t" x="752" y="531">ULD搬出記録</text></g>
<g id="r26"><rect class="bx" x="692" y="537" width="124" height="5"/><text class="t" x="752" y="541">搬出・搭載記録</text></g>

<!-- legend -->
<g id="legend">
<rect x="40" y="493" width="45" height="10" fill="#fff" stroke="#f4b183" stroke-width="1.2"/><text class="t" x="62.5" y="500">凡例</text>
<rect class="band" x="43" y="510" width="38" height="6"/><line x1="46" y1="513" x2="51" y2="513" stroke="#333" stroke-width="1"/><text class="t tl" x="54" y="514.5">貨物の流れ</text>
<rect x="40" y="524" width="44" height="10" rx="3" fill="#fdeee0" stroke="#f8c8a0" stroke-width="1"/><text class="t" x="62" y="530.5">&lt;ｲﾝﾀｰﾌｪｰｽ範囲&gt;</text>
<line class="sl" x1="43" y1="545" x2="53" y2="545" marker-end="url(#ah)"/><text class="t tl" x="56" y="546.5">作業の流れ</text>
<line class="dg" x1="43" y1="555" x2="53" y2="555" marker-end="url(#ah)"/><text class="t tl" x="56" y="556.5">情報の流れ(電子媒体)</text>
<line class="db" x1="43" y1="565" x2="53" y2="565" marker-end="url(#ahb)"/><text class="t tl" x="56" y="566.5">情報の流れ(紙媒体)</text>
<rect x="43" y="572" width="9" height="6" fill="#fff" stroke="#000" stroke-width="1"/><line x1="45" y1="575" x2="50" y2="575" stroke="#000" stroke-width="0.8" stroke-dasharray="1 0.6"/><text class="t tl" x="56" y="576.5">書類上の作業</text>
</g>

<!-- highlight: pre-receiving work -->
<g id="callout">
<rect x="385" y="200" width="193" height="55" fill="#fff" stroke="#000" stroke-width="2"/>
<polygon points="416,201 462,201 205,88" fill="#fff"/>
<polyline points="415,201 205,88 463,201" fill="none" stroke="#000" stroke-width="1.8"/>
<text x="481" y="241" style="font-family:'Noto Sans CJK JP',sans-serif;font-size:28px;font-weight:300;text-anchor:middle;fill:#222">荷受前作業</text>
</g>
<ellipse cx="153" cy="81" rx="59" ry="20" fill="none" stroke="#000" stroke-width="2"/>
</svg>
